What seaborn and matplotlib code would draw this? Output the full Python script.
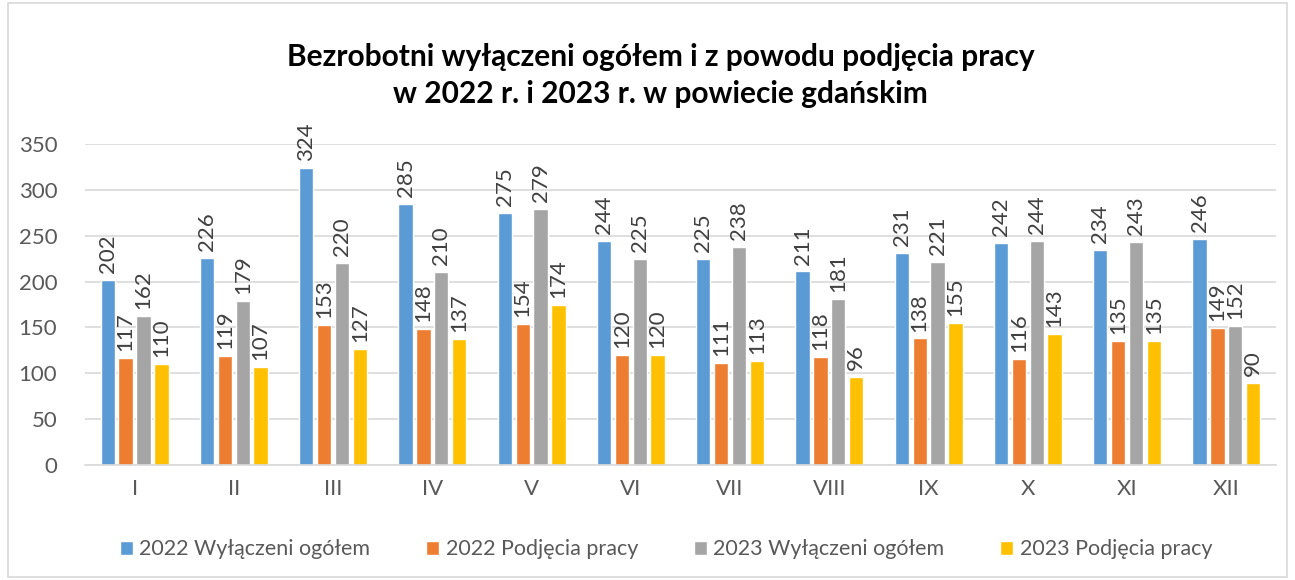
import matplotlib
matplotlib.use("Agg")
import matplotlib.pyplot as plt
import seaborn as sns
import pandas as pd
from matplotlib.patches import Rectangle

months = ["I", "II", "III", "IV", "V", "VI", "VII", "VIII", "IX", "X", "XI", "XII"]
wyl_2022 = [202, 226, 324, 285, 275, 244, 225, 211, 231, 242, 234, 246]
podj_2022 = [117, 119, 153, 148, 154, 120, 111, 118, 138, 116, 135, 149]
wyl_2023 = [162, 179, 220, 210, 279, 225, 238, 181, 221, 244, 243, 152]
podj_2023 = [110, 107, 127, 137, 174, 120, 113, 96, 155, 143, 135, 90]
series_names = ["2022 Wyłączeni ogółem", "2022 Podjęcia pracy",
                "2023 Wyłączeni ogółem", "2023 Podjęcia pracy"]
colors = ["#5B9BD5", "#ED7D31", "#A5A5A5", "#FFC000"]
title = "Bezrobotni wyłączeni ogółem i z powodu podjęcia pracy\nw 2022 r. i 2023 r. w powiecie gdańskim"

rows = []
for name, vals in zip(series_names, [wyl_2022, podj_2022, wyl_2023, podj_2023]):
    for m, v in zip(months, vals):
        rows.append({"Miesiąc": m, "Seria": name, "Wartość": v})
df = pd.DataFrame(rows)

sns.set_theme(style="white")
plt.rcParams["font.family"] = ["Lato", "DejaVu Sans"]

fig = plt.figure(figsize=(12.95, 5.8), dpi=100)
ax = fig.add_axes([0.0656, 0.198, 0.9197, 0.554])

sns.barplot(data=df, x="Miesiąc", y="Wartość", hue="Seria", order=months,
            hue_order=series_names, palette=colors, width=0.72, gap=0.2,
            saturation=1, ax=ax, legend=True)

for cont in ax.containers:
    ax.bar_label(cont, rotation=90, padding=5, fontsize=16, color="#404040")

ax.set_ylim(0, 350)
ax.set_yticks(range(0, 351, 50))
ax.set_xlim(-0.5, 11.5)
ax.set_xlabel("")
ax.set_ylabel("")
ax.yaxis.grid(True, color="#D9D9D9", linewidth=1.2)
ax.set_axisbelow(True)
for s in ["top", "right", "left"]:
    ax.spines[s].set_visible(False)
ax.spines["bottom"].set_color("#D9D9D9")
ax.spines["bottom"].set_linewidth(1.2)
ax.tick_params(axis="both", length=0, labelsize=16, colors="#595959")
ax.tick_params(axis="x", pad=10)
ax.tick_params(axis="y", pad=20)

leg = ax.legend(loc="center", bbox_to_anchor=(0.488, -0.262), ncol=4, frameon=False,
                fontsize=15.5, handlelength=0.6, handleheight=0.6, handletextpad=0.3,
                columnspacing=2.6, labelcolor="#595959")

fig.text(0.51, 0.87, title, ha="center", va="center", fontsize=21.5,
         fontweight="bold", color="black", linespacing=1.4)

fig.patches.append(Rectangle((0.006, 0.006), 0.988, 0.988, transform=fig.transFigure,
                             fill=False, edgecolor="#D9D9D9", linewidth=1.2))

fig.savefig("out.png", dpi=100, facecolor="white")
